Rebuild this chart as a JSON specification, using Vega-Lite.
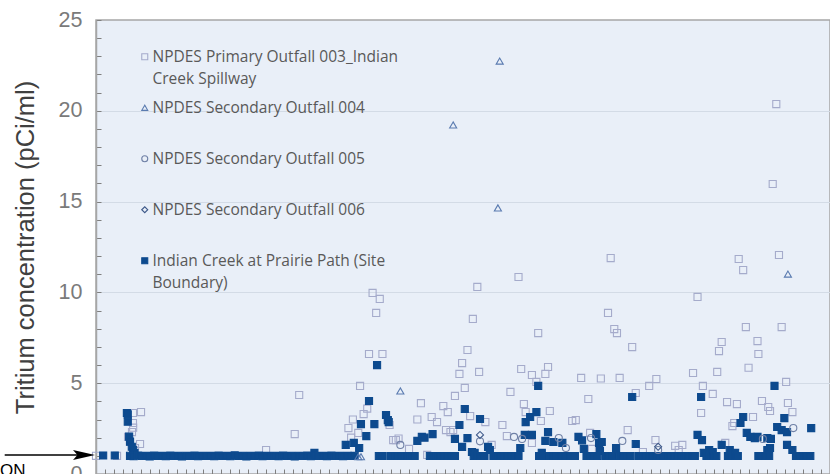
{
  "$schema": "https://vega.github.io/schema/vega-lite/v6.json",
  "width": 734,
  "height": 454,
  "autosize": {"type": "none"},
  "padding": {"left": 96, "top": 20, "right": 0, "bottom": 0},
  "background": "white",
  "config": {
    "view": {"fill": "#e9eff8", "stroke": "#a6a6a6", "strokeWidth": 1.5},
    "style": {"guide-label": {"lineHeight": 22}},
    "legend": {"gridAlign": "all"}
  },
  "encoding": {
    "x": {
      "field": "t", "type": "quantitative",
      "scale": {"domain": [0, 82], "nice": false, "zero": false},
      "axis": {"values": [0,1,2,3,4,5,6,7,8,9,10,11,12,13,14,15,16,17,18,19,20,21,22,23,24,25,26,27,28,29,30,31,32,33,34,35,36,37,38,39,40,41,42,43,44,45,46,47,48,49,50,51,52,53,54,55,56,57,58,59,60,61,62,63,64,65,66,67,68,69,70,71,72,73,74,75,76,77,78,79,80,81,82],
        "labels": false, "title": null, "grid": false, "domain": false, "tickSize": -5, "tickColor": "#7f7f7f", "tickWidth": 1}
    },
    "y": {
      "field": "v", "type": "quantitative",
      "scale": {"domain": [0, 25], "nice": false},
      "axis": {
        "values": [0,1,2,3,4,5,6,7,8,9,10,11,12,13,14,15,16,17,18,19,20,21,22,23,24,25],
        "labelExpr": "datum.value % 5 === 0 ? datum.label : ''",
        "title": "Tritium concentration (pCi/ml)",
        "titleFont": "Liberation Sans", "titleFontSize": 25.5, "titleFontWeight": "normal", "titleColor": "#404040", "titlePadding": 20,
        "labelFont": "Liberation Sans", "labelFontSize": 21.5, "labelColor": "#7a7a7a", "labelPadding": 19,
        "tickSize": -5, "tickColor": "#7f7f7f",
        "domainColor": "#a6a6a6", "domainWidth": 1.5,
        "gridColor": "#d3dbe6",
        "gridOpacity": {"condition": {"test": "datum.value % 5 === 0 && datum.value > 0 && datum.value < 25", "value": 1}, "value": 0}
      }
    }
  },
  "layer": [
    {
      "data": {"values": [
        {"s":"P","t":0,"v":1.0},{"s":"P","t":2.35,"v":1.0},
        {"s":"P","t":3.58,"v":2.04},{"s":"P","t":3.8,"v":1.76},{"s":"P","t":4.02,"v":2.31},{"s":"P","t":4.13,"v":3.36},{"s":"P","t":4.13,"v":2.81},{"s":"P","t":4.15,"v":2.55},{"s":"P","t":4.36,"v":1.43},{"s":"P","t":4.92,"v":1.65},{"s":"P","t":5.03,"v":3.41},
        {"s":"P","t":19.0,"v":1.32},{"s":"P","t":22.2,"v":2.2},{"s":"P","t":22.7,"v":4.35},
        {"s":"P","t":28.2,"v":2.53},{"s":"P","t":28.5,"v":2.0},{"s":"P","t":28.7,"v":3.0},{"s":"P","t":29.3,"v":2.26},{"s":"P","t":29.5,"v":4.85},{"s":"P","t":29.9,"v":3.3},{"s":"P","t":30.3,"v":3.6},{"s":"P","t":30.5,"v":6.61},{"s":"P","t":30.9,"v":9.97},{"s":"P","t":31.3,"v":8.87},{"s":"P","t":31.7,"v":9.64},{"s":"P","t":32.0,"v":6.61},{"s":"P","t":32.8,"v":2.7},{"s":"P","t":33.2,"v":1.87},{"s":"P","t":33.5,"v":1.87},{"s":"P","t":33.8,"v":1.95},{"s":"P","t":34.97,"v":1.38},{"s":"P","t":35.9,"v":3.0},{"s":"P","t":36.3,"v":3.9},
        {"s":"P","t":37.0,"v":1.05},{"s":"P","t":37.5,"v":3.14},{"s":"P","t":38.1,"v":2.86},{"s":"P","t":38.8,"v":3.74},{"s":"P","t":39.1,"v":2.42},{"s":"P","t":39.3,"v":3.41},{"s":"P","t":39.6,"v":2.31},{"s":"P","t":39.9,"v":2.42},{"s":"P","t":40.1,"v":4.3},{"s":"P","t":40.6,"v":5.51},{"s":"P","t":40.9,"v":6.11},{"s":"P","t":41.2,"v":4.74},{"s":"P","t":41.5,"v":6.83},{"s":"P","t":41.8,"v":3.19},{"s":"P","t":42.1,"v":8.54},{"s":"P","t":42.6,"v":10.3},{"s":"P","t":42.8,"v":5.62},{"s":"P","t":43.5,"v":2.86},{"s":"P","t":44.2,"v":1.6},{"s":"P","t":45.4,"v":2.7},{"s":"P","t":45.9,"v":2.09},{"s":"P","t":46.3,"v":4.52},{"s":"P","t":47.2,"v":10.85},{"s":"P","t":47.5,"v":5.78},{"s":"P","t":47.8,"v":3.85},{"s":"P","t":48.0,"v":3.41},{"s":"P","t":48.7,"v":5.45},{"s":"P","t":48.7,"v":1.71},{"s":"P","t":49.2,"v":5.07},{"s":"P","t":49.4,"v":7.76},{"s":"P","t":49.7,"v":2.92},{"s":"P","t":50.2,"v":5.51},{"s":"P","t":50.5,"v":5.89},{"s":"P","t":50.7,"v":3.47},
        {"s":"P","t":53.2,"v":2.92},{"s":"P","t":53.6,"v":2.97},{"s":"P","t":54.2,"v":5.29},{"s":"P","t":55.0,"v":4.13},{"s":"P","t":55.2,"v":2.26},{"s":"P","t":55.4,"v":1.38},{"s":"P","t":56.4,"v":5.26},{"s":"P","t":57.2,"v":8.87},{"s":"P","t":57.5,"v":11.89},{"s":"P","t":57.9,"v":7.98},{"s":"P","t":58.2,"v":7.76},{"s":"P","t":58.5,"v":5.29},{"s":"P","t":59.4,"v":2.42},{"s":"P","t":59.9,"v":6.99},{"s":"P","t":60.3,"v":4.46},{"s":"P","t":61.1,"v":1.21},{"s":"P","t":61.8,"v":4.85},{"s":"P","t":62.5,"v":1.87},{"s":"P","t":62.6,"v":5.23},{"s":"P","t":64.7,"v":1.55},{"s":"P","t":65.1,"v":1.32},{"s":"P","t":65.5,"v":1.6},{"s":"P","t":66.7,"v":5.56},{"s":"P","t":67.2,"v":9.75},{"s":"P","t":67.6,"v":3.36},{"s":"P","t":67.8,"v":4.85},{"s":"P","t":68.9,"v":4.41},{"s":"P","t":69.4,"v":5.62},{"s":"P","t":69.6,"v":6.77},{"s":"P","t":69.9,"v":7.27},{"s":"P","t":70.3,"v":1.71},{"s":"P","t":70.5,"v":3.96},{"s":"P","t":71.1,"v":2.64},{"s":"P","t":71.3,"v":2.81},{"s":"P","t":71.6,"v":3.85},{"s":"P","t":71.8,"v":11.84},{"s":"P","t":72.3,"v":11.23},{"s":"P","t":72.6,"v":8.09},{"s":"P","t":72.9,"v":5.85},{"s":"P","t":73.4,"v":3.14},{"s":"P","t":73.9,"v":7.32},{"s":"P","t":74.0,"v":6.61},{"s":"P","t":74.4,"v":4.02},{"s":"P","t":75.1,"v":3.69},{"s":"P","t":75.3,"v":3.47},{"s":"P","t":75.6,"v":15.97},{"s":"P","t":76.0,"v":20.37},{"s":"P","t":76.3,"v":12.06},{"s":"P","t":76.6,"v":8.09},{"s":"P","t":77.1,"v":5.07},{"s":"P","t":77.3,"v":3.91},{"s":"P","t":77.8,"v":3.41},
        {"s":"IC","t":0.8,"v":1.02},{"s":"IC","t":2.1,"v":1.02},
        {"s":"IC","t":3.45,"v":3.36},{"s":"IC","t":3.55,"v":3.28},{"s":"IC","t":3.55,"v":2.88},{"s":"IC","t":3.7,"v":2.06},{"s":"IC","t":3.8,"v":1.78},{"s":"IC","t":4.0,"v":1.5},{"s":"IC","t":4.15,"v":1.32},{"s":"IC","t":4.3,"v":1.15},
        {"s":"IC","t":3.8,"v":1.0},{"s":"IC","t":4.2,"v":0.98},{"s":"IC","t":4.7,"v":1.02},{"s":"IC","t":5.1,"v":0.99},{"s":"IC","t":5.6,"v":1.0},{"s":"IC","t":6.0,"v":0.97},{"s":"IC","t":6.5,"v":1.01},{"s":"IC","t":6.9,"v":0.99},{"s":"IC","t":7.4,"v":1.0},{"s":"IC","t":7.8,"v":0.98},{"s":"IC","t":8.3,"v":1.01},{"s":"IC","t":8.7,"v":0.99},{"s":"IC","t":9.2,"v":1.0},{"s":"IC","t":9.6,"v":0.97},{"s":"IC","t":10.1,"v":1.0},{"s":"IC","t":10.5,"v":0.99},{"s":"IC","t":11.0,"v":1.01},{"s":"IC","t":11.4,"v":0.98},{"s":"IC","t":11.9,"v":1.0},{"s":"IC","t":12.3,"v":0.99},{"s":"IC","t":12.8,"v":1.0},{"s":"IC","t":13.2,"v":0.98},{"s":"IC","t":13.7,"v":1.01},{"s":"IC","t":14.1,"v":0.99},{"s":"IC","t":14.6,"v":1.0},{"s":"IC","t":15.0,"v":0.98},{"s":"IC","t":15.5,"v":1.03},{"s":"IC","t":15.9,"v":0.99},{"s":"IC","t":16.4,"v":1.0},{"s":"IC","t":16.8,"v":0.97},{"s":"IC","t":17.3,"v":1.0},{"s":"IC","t":17.7,"v":0.99},{"s":"IC","t":18.2,"v":1.01},{"s":"IC","t":18.6,"v":0.98},{"s":"IC","t":19.1,"v":1.0},{"s":"IC","t":19.5,"v":0.99},{"s":"IC","t":20.0,"v":1.0},{"s":"IC","t":20.4,"v":0.98},{"s":"IC","t":20.9,"v":1.01},{"s":"IC","t":21.3,"v":0.99},{"s":"IC","t":21.8,"v":1.0},{"s":"IC","t":22.2,"v":0.97},{"s":"IC","t":22.7,"v":1.0},{"s":"IC","t":23.1,"v":0.99},{"s":"IC","t":23.6,"v":1.01},{"s":"IC","t":24.0,"v":0.98},{"s":"IC","t":24.4,"v":1.16},{"s":"IC","t":24.5,"v":1.0},{"s":"IC","t":24.9,"v":0.99},{"s":"IC","t":25.4,"v":1.0},{"s":"IC","t":25.8,"v":0.98},{"s":"IC","t":26.3,"v":1.01},{"s":"IC","t":26.7,"v":0.99},{"s":"IC","t":27.2,"v":1.0},{"s":"IC","t":27.6,"v":0.98},{"s":"IC","t":28.1,"v":1.0},{"s":"IC","t":28.5,"v":0.99},{"s":"IC","t":28.9,"v":1.0},
        {"s":"IC","t":27.9,"v":1.6},{"s":"IC","t":28.8,"v":1.71},{"s":"IC","t":29.4,"v":1.43},{"s":"IC","t":29.6,"v":2.75},{"s":"IC","t":30.2,"v":2.09},{"s":"IC","t":30.5,"v":4.02},{"s":"IC","t":31.1,"v":2.75},{"s":"IC","t":31.4,"v":6.0},{"s":"IC","t":31.6,"v":0.99},{"s":"IC","t":32.0,"v":0.99},{"s":"IC","t":32.4,"v":3.25},{"s":"IC","t":32.6,"v":2.97},{"s":"IC","t":32.7,"v":2.86},{"s":"IC","t":32.9,"v":0.99},{"s":"IC","t":33.3,"v":0.99},{"s":"IC","t":33.7,"v":0.99},{"s":"IC","t":34.1,"v":0.99},{"s":"IC","t":34.5,"v":0.99},{"s":"IC","t":34.8,"v":0.99},{"s":"IC","t":35.2,"v":0.99},{"s":"IC","t":35.6,"v":0.99},
        {"s":"IC","t":35.9,"v":1.82},{"s":"IC","t":36.4,"v":2.04},{"s":"IC","t":36.7,"v":2.0},{"s":"IC","t":37.6,"v":2.2},{"s":"IC","t":37.3,"v":0.99},{"s":"IC","t":37.7,"v":0.99},{"s":"IC","t":38.1,"v":0.99},{"s":"IC","t":38.5,"v":0.99},{"s":"IC","t":38.9,"v":0.99},{"s":"IC","t":39.3,"v":0.99},{"s":"IC","t":39.7,"v":0.99},{"s":"IC","t":40.1,"v":0.99},{"s":"IC","t":40.1,"v":1.93},{"s":"IC","t":40.6,"v":2.7},{"s":"IC","t":41.2,"v":3.58},{"s":"IC","t":41.5,"v":1.98},{"s":"IC","t":40.9,"v":1.49},{"s":"IC","t":42.0,"v":1.21},{"s":"IC","t":42.3,"v":1.16},{"s":"IC","t":42.2,"v":0.99},{"s":"IC","t":42.6,"v":0.99},{"s":"IC","t":43.0,"v":0.99},{"s":"IC","t":43.4,"v":0.99},{"s":"IC","t":42.9,"v":3.03},{"s":"IC","t":43.8,"v":1.49},{"s":"IC","t":44.0,"v":1.32},{"s":"IC","t":44.4,"v":0.99},{"s":"IC","t":44.8,"v":0.99},{"s":"IC","t":45.2,"v":0.99},{"s":"IC","t":45.6,"v":0.99},{"s":"IC","t":46.0,"v":0.99},{"s":"IC","t":46.4,"v":0.99},{"s":"IC","t":46.8,"v":0.99},{"s":"IC","t":47.2,"v":0.99},{"s":"IC","t":47.4,"v":1.43},{"s":"IC","t":47.9,"v":2.15},{"s":"IC","t":48.7,"v":2.15},{"s":"IC","t":48.0,"v":2.86},{"s":"IC","t":48.5,"v":3.14},{"s":"IC","t":49.2,"v":3.41},{"s":"IC","t":49.4,"v":4.85},{"s":"IC","t":49.8,"v":1.16},{"s":"IC","t":50.2,"v":1.82},{"s":"IC","t":50.5,"v":2.31},{"s":"IC","t":51.1,"v":1.76},{"s":"IC","t":52.1,"v":1.71},{"s":"IC","t":49.5,"v":0.99},{"s":"IC","t":49.9,"v":0.99},{"s":"IC","t":50.7,"v":0.99},{"s":"IC","t":51.1,"v":0.99},{"s":"IC","t":51.5,"v":0.99},{"s":"IC","t":52.0,"v":0.99},{"s":"IC","t":52.5,"v":0.99},{"s":"IC","t":53.0,"v":0.99},{"s":"IC","t":53.5,"v":0.99},
        {"s":"IC","t":53.9,"v":2.04},{"s":"IC","t":54.3,"v":1.85},{"s":"IC","t":54.5,"v":1.38},{"s":"IC","t":54.8,"v":0.99},{"s":"IC","t":55.2,"v":0.99},{"s":"IC","t":55.6,"v":0.99},{"s":"IC","t":55.9,"v":2.2},{"s":"IC","t":56.0,"v":0.99},{"s":"IC","t":56.2,"v":1.71},{"s":"IC","t":56.3,"v":1.27},{"s":"IC","t":56.5,"v":1.76},{"s":"IC","t":56.9,"v":0.99},{"s":"IC","t":57.3,"v":0.99},{"s":"IC","t":57.7,"v":0.99},{"s":"IC","t":58.1,"v":1.43},{"s":"IC","t":58.5,"v":0.99},{"s":"IC","t":58.9,"v":0.99},{"s":"IC","t":59.3,"v":0.99},{"s":"IC","t":59.7,"v":0.99},{"s":"IC","t":59.9,"v":4.24},{"s":"IC","t":60.3,"v":1.65},{"s":"IC","t":60.6,"v":0.99},{"s":"IC","t":61.0,"v":0.99},{"s":"IC","t":61.4,"v":0.99},{"s":"IC","t":61.8,"v":0.99},{"s":"IC","t":62.2,"v":0.99},{"s":"IC","t":62.6,"v":0.99},{"s":"IC","t":63.0,"v":0.99},{"s":"IC","t":63.4,"v":0.99},{"s":"IC","t":63.8,"v":0.99},{"s":"IC","t":64.2,"v":0.99},{"s":"IC","t":64.6,"v":0.99},{"s":"IC","t":65.0,"v":0.99},{"s":"IC","t":65.4,"v":0.99},{"s":"IC","t":65.8,"v":0.99},{"s":"IC","t":66.2,"v":0.99},{"s":"IC","t":66.6,"v":0.99},{"s":"IC","t":66.9,"v":0.99},
        {"s":"IC","t":67.2,"v":2.15},{"s":"IC","t":67.6,"v":4.24},{"s":"IC","t":67.7,"v":1.87},{"s":"IC","t":67.9,"v":1.16},{"s":"IC","t":68.2,"v":0.99},{"s":"IC","t":68.5,"v":1.32},{"s":"IC","t":68.6,"v":0.99},{"s":"IC","t":68.9,"v":1.21},{"s":"IC","t":69.0,"v":0.99},{"s":"IC","t":69.3,"v":0.99},{"s":"IC","t":69.9,"v":1.6},{"s":"IC","t":70.6,"v":0.99},{"s":"IC","t":70.8,"v":1.32},{"s":"IC","t":71.0,"v":0.99},{"s":"IC","t":71.4,"v":1.16},{"s":"IC","t":71.4,"v":0.99},{"s":"IC","t":71.7,"v":0.99},{"s":"IC","t":72.0,"v":2.81},{"s":"IC","t":72.3,"v":3.14},{"s":"IC","t":72.7,"v":2.26},{"s":"IC","t":73.1,"v":2.04},{"s":"IC","t":73.6,"v":1.98},{"s":"IC","t":73.9,"v":2.04},{"s":"IC","t":74.0,"v":0.99},{"s":"IC","t":74.4,"v":0.99},{"s":"IC","t":74.8,"v":0.99},{"s":"IC","t":75.0,"v":1.98},{"s":"IC","t":75.0,"v":1.32},{"s":"IC","t":75.2,"v":0.99},{"s":"IC","t":75.3,"v":1.43},{"s":"IC","t":75.4,"v":1.93},{"s":"IC","t":75.8,"v":4.85},{"s":"IC","t":76.1,"v":2.59},{"s":"IC","t":76.6,"v":2.42},{"s":"IC","t":76.9,"v":3.08},{"s":"IC","t":77.2,"v":2.31},{"s":"IC","t":77.2,"v":1.6},{"s":"IC","t":77.8,"v":1.32},{"s":"IC","t":78.2,"v":0.99},{"s":"IC","t":78.6,"v":0.99},{"s":"IC","t":79.0,"v":0.99},{"s":"IC","t":79.4,"v":0.99},{"s":"IC","t":79.8,"v":0.99},{"s":"IC","t":79.9,"v":2.53},
        {"s":"S4","t":29.3,"v":0.95},{"s":"S4","t":29.6,"v":0.95},{"s":"S4","t":34.0,"v":4.57},{"s":"S4","t":39.9,"v":19.22},{"s":"S4","t":44.9,"v":14.65},{"s":"S4","t":45.1,"v":22.74},{"s":"S4","t":77.3,"v":11.01},
        {"s":"S5","t":34.0,"v":1.6},{"s":"S5","t":42.9,"v":1.8},{"s":"S5","t":46.7,"v":2.04},{"s":"S5","t":47.6,"v":1.93},{"s":"S5","t":51.7,"v":1.98},{"s":"S5","t":52.5,"v":1.43},{"s":"S5","t":55.3,"v":1.98},{"s":"S5","t":58.8,"v":1.82},{"s":"S5","t":62.8,"v":1.32},{"s":"S5","t":74.5,"v":1.93},{"s":"S5","t":77.9,"v":2.53},
        {"s":"S6","t":42.9,"v":2.15},{"s":"S6","t":62.8,"v":1.5}
      ]},
      "transform": [
        {"lookup": "s", "from": {"data": {"values": [
          {"s": "P", "series": "NPDES Primary Outfall 003_Indian Creek Spillway"},
          {"s": "S4", "series": "NPDES Secondary Outfall 004"},
          {"s": "S5", "series": "NPDES Secondary Outfall 005"},
          {"s": "S6", "series": "NPDES Secondary Outfall 006"},
          {"s": "IC", "series": "Indian Creek at Prairie Path (Site Boundary)"}
        ]}, "key": "s", "fields": ["series"]}}
      ],
      "mark": {"type": "point", "filled": true, "size": 50, "strokeWidth": 1.1, "opacity": 1},
      "encoding": {
        "shape": {
          "field": "series", "type": "nominal",
          "scale": {"domain": ["NPDES Primary Outfall 003_Indian Creek Spillway", "NPDES Secondary Outfall 004", "NPDES Secondary Outfall 005", "NPDES Secondary Outfall 006", "Indian Creek at Prairie Path (Site Boundary)"],
                    "range": ["square", "triangle-up", "circle", "diamond", "square"]},
          "legend": {
            "title": null, "orient": "none", "legendX": 41, "legendY": 29, "padding": 0,
            "labelFont": "Open Sans", "labelFontSize": 15.5, "labelColor": "#595959", "labelLimit": 400,
            "labelOffset": 0, "rowPadding": 12, "symbolSize": 36, "symbolStrokeWidth": 1.1,
            "labelExpr": "datum.label == 'NPDES Primary Outfall 003_Indian Creek Spillway' ? ['NPDES Primary Outfall 003_Indian', 'Creek Spillway'] : datum.label == 'Indian Creek at Prairie Path (Site Boundary)' ? ['Indian Creek at Prairie Path (Site', 'Boundary)'] : datum.label"
          }
        },
        "stroke": {
          "field": "series", "type": "nominal",
          "scale": {"domain": ["NPDES Primary Outfall 003_Indian Creek Spillway", "NPDES Secondary Outfall 004", "NPDES Secondary Outfall 005", "NPDES Secondary Outfall 006", "Indian Creek at Prairie Path (Site Boundary)"],
                    "range": ["#a5abcb", "#5a7bb0", "#6f80a6", "#3f5a8a", "#0d4a8e"]}
        },
        "fill": {
          "field": "series", "type": "nominal",
          "scale": {"domain": ["NPDES Primary Outfall 003_Indian Creek Spillway", "NPDES Secondary Outfall 004", "NPDES Secondary Outfall 005", "NPDES Secondary Outfall 006", "Indian Creek at Prairie Path (Site Boundary)"],
                    "range": ["transparent", "transparent", "transparent", "transparent", "#0d4a8e"]}
        }
      }
    },
    {
      "data": {"values": [{"t": -10.2, "t2": -1.8, "v": 1.05}]},
      "mark": {"type": "rule", "color": "black", "strokeWidth": 1.5},
      "encoding": {"x2": {"field": "t2"}}
    },
    {
      "data": {"values": [{"t": -1.34, "v": 1.05}]},
      "mark": {"type": "point", "shape": "M-1,-0.45L1,0L-1,0.45L-0.6,0Z", "size": 484, "filled": true, "color": "black", "opacity": 1},
      "encoding": {}
    },
    {
      "data": {"values": [{"t": -10.73, "v": -0.1, "label": "ON"}]},
      "mark": {"type": "text", "align": "left", "baseline": "alphabetic", "font": "Liberation Sans", "fontSize": 17, "color": "black"},
      "encoding": {"text": {"field": "label"}}
    }
  ]
}
